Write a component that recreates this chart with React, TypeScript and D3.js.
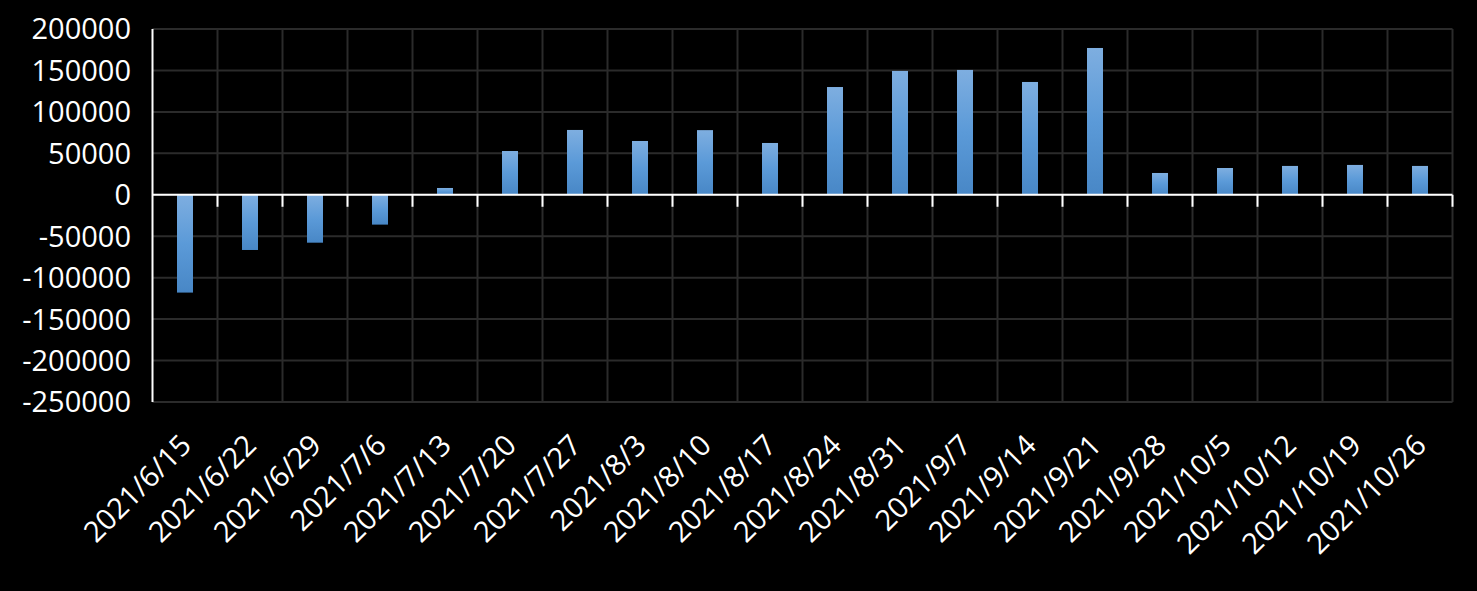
import React from "react";
import * as d3 from "d3";

const categories = [
  "2021/6/15", "2021/6/22", "2021/6/29", "2021/7/6", "2021/7/13",
  "2021/7/20", "2021/7/27", "2021/8/3", "2021/8/10", "2021/8/17",
  "2021/8/24", "2021/8/31", "2021/9/7", "2021/9/14", "2021/9/21",
  "2021/9/28", "2021/10/5", "2021/10/12", "2021/10/19", "2021/10/26",
];
const values = [
  -118000, -66600, -57800, -36000, 8200,
  52800, 78200, 64900, 78000, 62500,
  130000, 149400, 150600, 136100, 177100,
  26300, 32300, 34800, 36000, 34800,
];
const yTicks = [200000, 150000, 100000, 50000, 0, -50000, -100000, -150000, -200000, -250000];

const W = 1477;
const H = 591;
const left = 152.5;
const right = 1452.5;
const top = 29;
const bottom = 402;
const font = "'Open Sans', 'Noto Sans', sans-serif";

export default function App() {
  const x = d3.scaleBand<string>().domain(categories).range([left, right]).padding(0);
  const y = d3.scaleLinear().domain([-250000, 200000]).range([bottom, top]);
  const bw = x.bandwidth();
  const barW = bw * (16 / 65);
  const boundaries = categories.map((c) => (x(c) as number) + bw);
  const y0 = y(0);

  return (
    <svg
      width={W}
      height={H}
      style={{ position: "absolute", left: 0, top: 0, background: "#000" }}
    >
      <defs>
        <linearGradient id="barGrad" x1="0" y1="0" x2="0" y2="1">
          <stop offset="0%" stopColor="#7eaee0" />
          <stop offset="50%" stopColor="#5b9ad8" />
          <stop offset="100%" stopColor="#4887c6" />
        </linearGradient>
      </defs>
      <rect x={0} y={0} width={W} height={H} fill="#000" />
      {/* horizontal gridlines */}
      {yTicks.map((t) => (
        <line
          key={"h" + t}
          x1={left}
          x2={right}
          y1={y(t)}
          y2={y(t)}
          stroke="#2b2b2b"
          strokeWidth={2}
        />
      ))}
      {/* vertical gridlines */}
      {boundaries.map((b, i) => (
        <line
          key={"v" + i}
          x1={b}
          x2={b}
          y1={top}
          y2={bottom}
          stroke="#2b2b2b"
          strokeWidth={2}
        />
      ))}
      {/* bars */}
      {categories.map((c, i) => {
        const v = values[i];
        const cx = (x(c) as number) + bw / 2;
        const ya = y(Math.max(0, v));
        const yb = y(Math.min(0, v));
        return (
          <rect
            key={c}
            x={cx - barW / 2}
            y={ya}
            width={barW}
            height={yb - ya}
            fill="url(#barGrad)"
          />
        );
      })}
      {/* zero axis */}
      <line x1={left} x2={right} y1={y0} y2={y0} stroke="#fff" strokeWidth={2} />
      {boundaries.map((b, i) => (
        <line key={"t" + i} x1={b} x2={b} y1={y0} y2={y0 + 12} stroke="#fff" strokeWidth={2} />
      ))}
      {/* y axis */}
      <line x1={left} x2={left} y1={top} y2={bottom} stroke="#fff" strokeWidth={2} />
      {yTicks.map((t) => (
        <text
          key={"yl" + t}
          x={131}
          y={y(t)}
          dy="0.36em"
          textAnchor="end"
          fill="#fff"
          fontFamily={font}
          fontSize={29}
        >
          {t}
        </text>
      ))}
      {/* x labels */}
      {categories.map((c) => {
        const cx = (x(c) as number) + bw / 2;
        return (
          <text
            key={"xl" + c}
            transform={`translate(${cx + 8},${447}) rotate(-45)`}
            textAnchor="end"
            fill="#fff"
            fontFamily={font}
            fontSize={29}
          >
            {c}
          </text>
        );
      })}
    </svg>
  );
}
